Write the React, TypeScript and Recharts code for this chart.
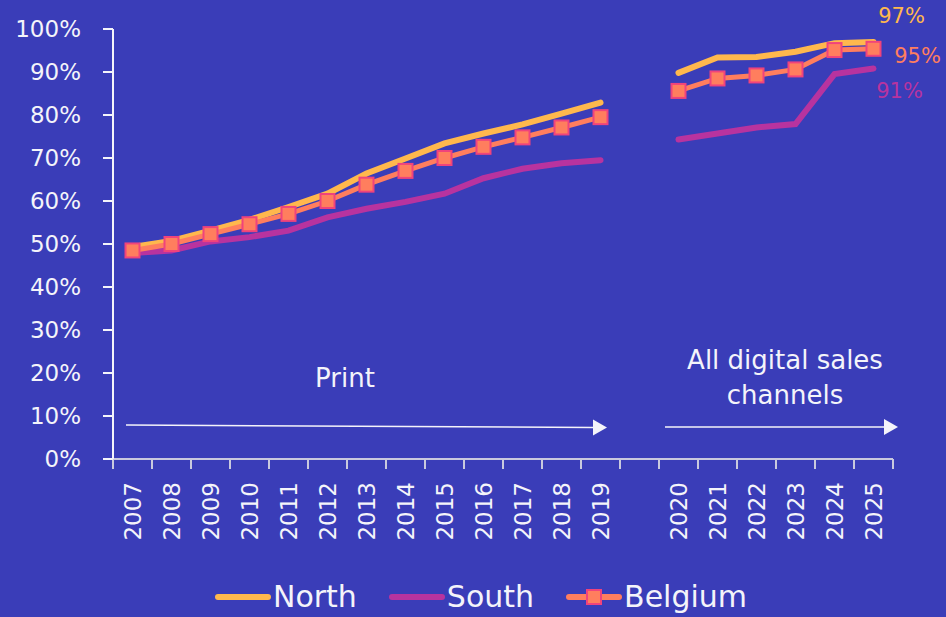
import { LineChart, Line, XAxis, YAxis, Legend } from "recharts"

const years = [
  "2007", "2008", "2009", "2010", "2011", "2012", "2013",
  "2014", "2015", "2016", "2017", "2018", "2019", "",
  "2020", "2021", "2022", "2023", "2024", "2025",
]
const north = [49.3, 50.7, 53.1, 55.6, 58.6, 61.7, 66.4, 69.9, 73.4, 75.7, 77.8, 80.3, 82.9, null, 89.8, 93.4, 93.5, 94.7, 96.7, 97.0]
const south = [47.9, 48.5, 50.6, 51.6, 53.1, 56.2, 58.2, 59.8, 61.7, 65.3, 67.5, 68.8, 69.5, null, 74.3, 75.7, 77.1, 77.9, 89.5, 90.8]
const belgium = [48.5, 50.0, 52.3, 54.6, 57.0, 60.0, 63.8, 67.0, 70.0, 72.6, 74.8, 77.1, 79.5, null, 85.6, 88.5, 89.2, 90.6, 95.1, 95.4]
const yTicks = [0, 10, 20, 30, 40, 50, 60, 70, 80, 90, 100]

const BG = "#3a3db8"
const YELLOW = "#ffb84d"
const MAGENTA = "#b8339f"
const CORAL = "#ff7e5e"
const PINK = "#f0437c"
const WHITE = "#f4f4fa"
const FONT = "'DejaVu Sans', sans-serif"

const rows = years.map((year, i) => ({
  pos: i + 0.5,
  year,
  north: north[i],
  south: south[i],
  belgium: belgium[i],
}))

const markTicks = years.map((_, i) => i).concat([years.length])
const labelTicks = rows.filter((r) => r.year !== "").map((r) => r.pos)

const YearTick = (props: any) => {
  const { x, y, payload } = props
  const label = years[Math.round(payload.value - 0.5)]
  const ty = y + 11
  return (
    <text
      x={x}
      y={ty}
      transform={`rotate(-90, ${x}, ${ty})`}
      textAnchor="end"
      dominantBaseline="central"
      fill={WHITE}
      fontSize={23}
      fontFamily={FONT}
    >
      {label}
    </text>
  )
}

// tick marks only, the labels come from the second axis
const NoLabel = () => <g />

const SquareDot = (props: any) => {
  const { cx, cy } = props
  if (cx == null || cy == null) return null
  return <rect x={cx - 7} y={cy - 7} width={14} height={14} fill={CORAL} stroke={PINK} strokeWidth={2} />
}

const endLabel = (color: string, dx: number, dy: number) => (props: any) => {
  const { x, y, index, value } = props
  if (index !== years.length - 1) return null
  return (
    <text x={x + dx} y={y + dy} fill={color} fontSize={21} fontFamily={FONT} textAnchor="middle" dominantBaseline="central">
      {Math.round(value)}%
    </text>
  )
}

const LegendContent = () => {
  const items = [
    { name: "North", color: YELLOW, square: false },
    { name: "South", color: MAGENTA, square: false },
    { name: "Belgium", color: CORAL, square: true },
  ]
  return (
    <div style={{ display: "flex", justifyContent: "center", alignItems: "center", height: 40, paddingLeft: 69, gap: 32 }}>
      {items.map((it) => (
        <div key={it.name} style={{ display: "flex", alignItems: "center", gap: 2 }}>
          <svg width={56} height={20}>
            <line x1={3} y1={10} x2={53} y2={10} stroke={it.color} strokeWidth={6} strokeLinecap="round" />
            {it.square && <rect x={21} y={3} width={14} height={14} fill={CORAL} stroke={PINK} strokeWidth={2} />}
          </svg>
          <span style={{ color: WHITE, fontSize: 30, fontFamily: FONT, lineHeight: "40px" }}>{it.name}</span>
        </div>
      ))}
    </div>
  )
}

export default function App() {
  return (
    <div style={{ position: "relative", width: 946, height: 617, background: BG }}>
      <style>{"body{margin:0}"}</style>
      <LineChart width={946} height={617} data={rows} margin={{ top: 29, right: 53, bottom: 0, left: 0 }}>
        <XAxis
          xAxisId="marks"
          type="number"
          dataKey="pos"
          domain={[0, years.length]}
          ticks={markTicks}
          tick={<NoLabel />}
          tickSize={10}
          height={10}
          stroke="#c9c9de"
          strokeWidth={2}
          interval={0}
        />
        <XAxis
          xAxisId="years"
          type="number"
          dataKey="pos"
          domain={[0, years.length]}
          ticks={labelTicks}
          tick={<YearTick />}
          axisLine={false}
          tickLine={false}
          tickSize={0}
          height={108}
          interval={0}
        />
        <YAxis
          domain={[0, 100]}
          ticks={yTicks}
          tickFormatter={(v) => `${v}%`}
          width={113}
          tickSize={10}
          tickMargin={22}
          stroke={WHITE}
          strokeWidth={2}
          tick={{ fill: WHITE, fontSize: 23, fontFamily: FONT }}
          interval={0}
        />
        <Legend verticalAlign="bottom" content={<LegendContent />} wrapperStyle={{ height: 40 }} />
        <Line
          xAxisId="years"
          dataKey="south"
          stroke={MAGENTA}
          strokeWidth={6}
          strokeLinecap="round"
          dot={false}
          isAnimationActive={false}
          label={endLabel(MAGENTA, 26, 22)}
        />
        <Line
          xAxisId="years"
          dataKey="north"
          stroke={YELLOW}
          strokeWidth={6}
          strokeLinecap="round"
          dot={false}
          isAnimationActive={false}
          label={endLabel(YELLOW, 28, -26)}
        />
        <Line
          xAxisId="years"
          dataKey="belgium"
          stroke={CORAL}
          strokeWidth={5}
          strokeLinecap="round"
          dot={<SquareDot />}
          activeDot={false}
          isAnimationActive={false}
          label={endLabel(CORAL, 44, 7)}
        />
      </LineChart>
      <svg width={946} height={617} style={{ position: "absolute", left: 0, top: 0, pointerEvents: "none" }}>
        <g fontFamily={FONT} fill={WHITE} fontSize={26} textAnchor="middle">
          <text x={345} y={387}>Print</text>
          <text x={785} y={369}>All digital sales</text>
          <text x={785} y={404}>channels</text>
        </g>
        <line x1={126} y1={425} x2={594} y2={427.5} stroke={WHITE} strokeWidth={1.5} />
        <polygon points="593,419.5 607,427.5 593,435.5" fill={WHITE} />
        <line x1={665} y1={427} x2={885} y2={427} stroke={WHITE} strokeWidth={1.5} />
        <polygon points="884,419 898,427 884,435" fill={WHITE} />
      </svg>
    </div>
  )
}
